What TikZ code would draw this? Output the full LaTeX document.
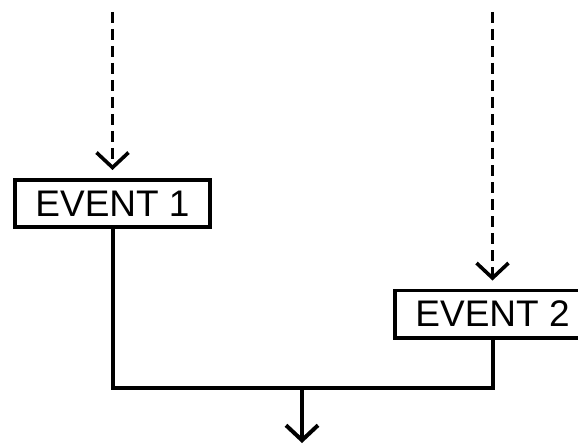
\documentclass[tikz,border=0pt]{standalone}
\usepackage{fontspec}
\setmainfont{Liberation Sans}
\usepackage{tikz}
\usetikzlibrary{positioning,arrows.meta}
\tikzset{
  eventnode/.style = {rectangle, draw=black, line width=1.9pt, fill=white,
                      minimum width=97.6pt, minimum height=23.6pt, inner sep=0pt,
                      font=\fontsize{18.5pt}{22pt}\selectfont},
  cueedge/.style   = {-{Straight Barb[length=7.5pt,width=16pt]}, line width=1.8pt,
                      dash pattern=on 5.5pt off 3pt, shorten >=4pt},
  flowedge/.style  = {line width=2pt},
  outedge/.style   = {-{Straight Barb[length=7.5pt,width=16pt]}, line width=2pt}
}

\begin{document}
\begin{tikzpicture}[x=0.5pt, y=-0.5pt]
  \clip (0,0) rectangle (578,444);
  % Events
  \node[eventnode] (ev1) at (112.5,203.5) {EVENT 1};
  \node[eventnode] (ev2) at (492.5,314)   {EVENT 2};
  % Free ends
  \coordinate (src1)  at (112.5,12);
  \coordinate (src2)  at (492.5,12);
  \coordinate (merge) at (302,388);
  \coordinate (out)   at (302,443);
  % Incoming cues
  \draw[cueedge] (src1) -- (ev1.north);
  \draw[cueedge] (src2) -- (ev2.north);
  % Join
  \draw[flowedge] (ev1.south) |- (merge) -| (ev2.south);
  \draw[outedge] (merge) -- (out);
\end{tikzpicture}
\end{document}
